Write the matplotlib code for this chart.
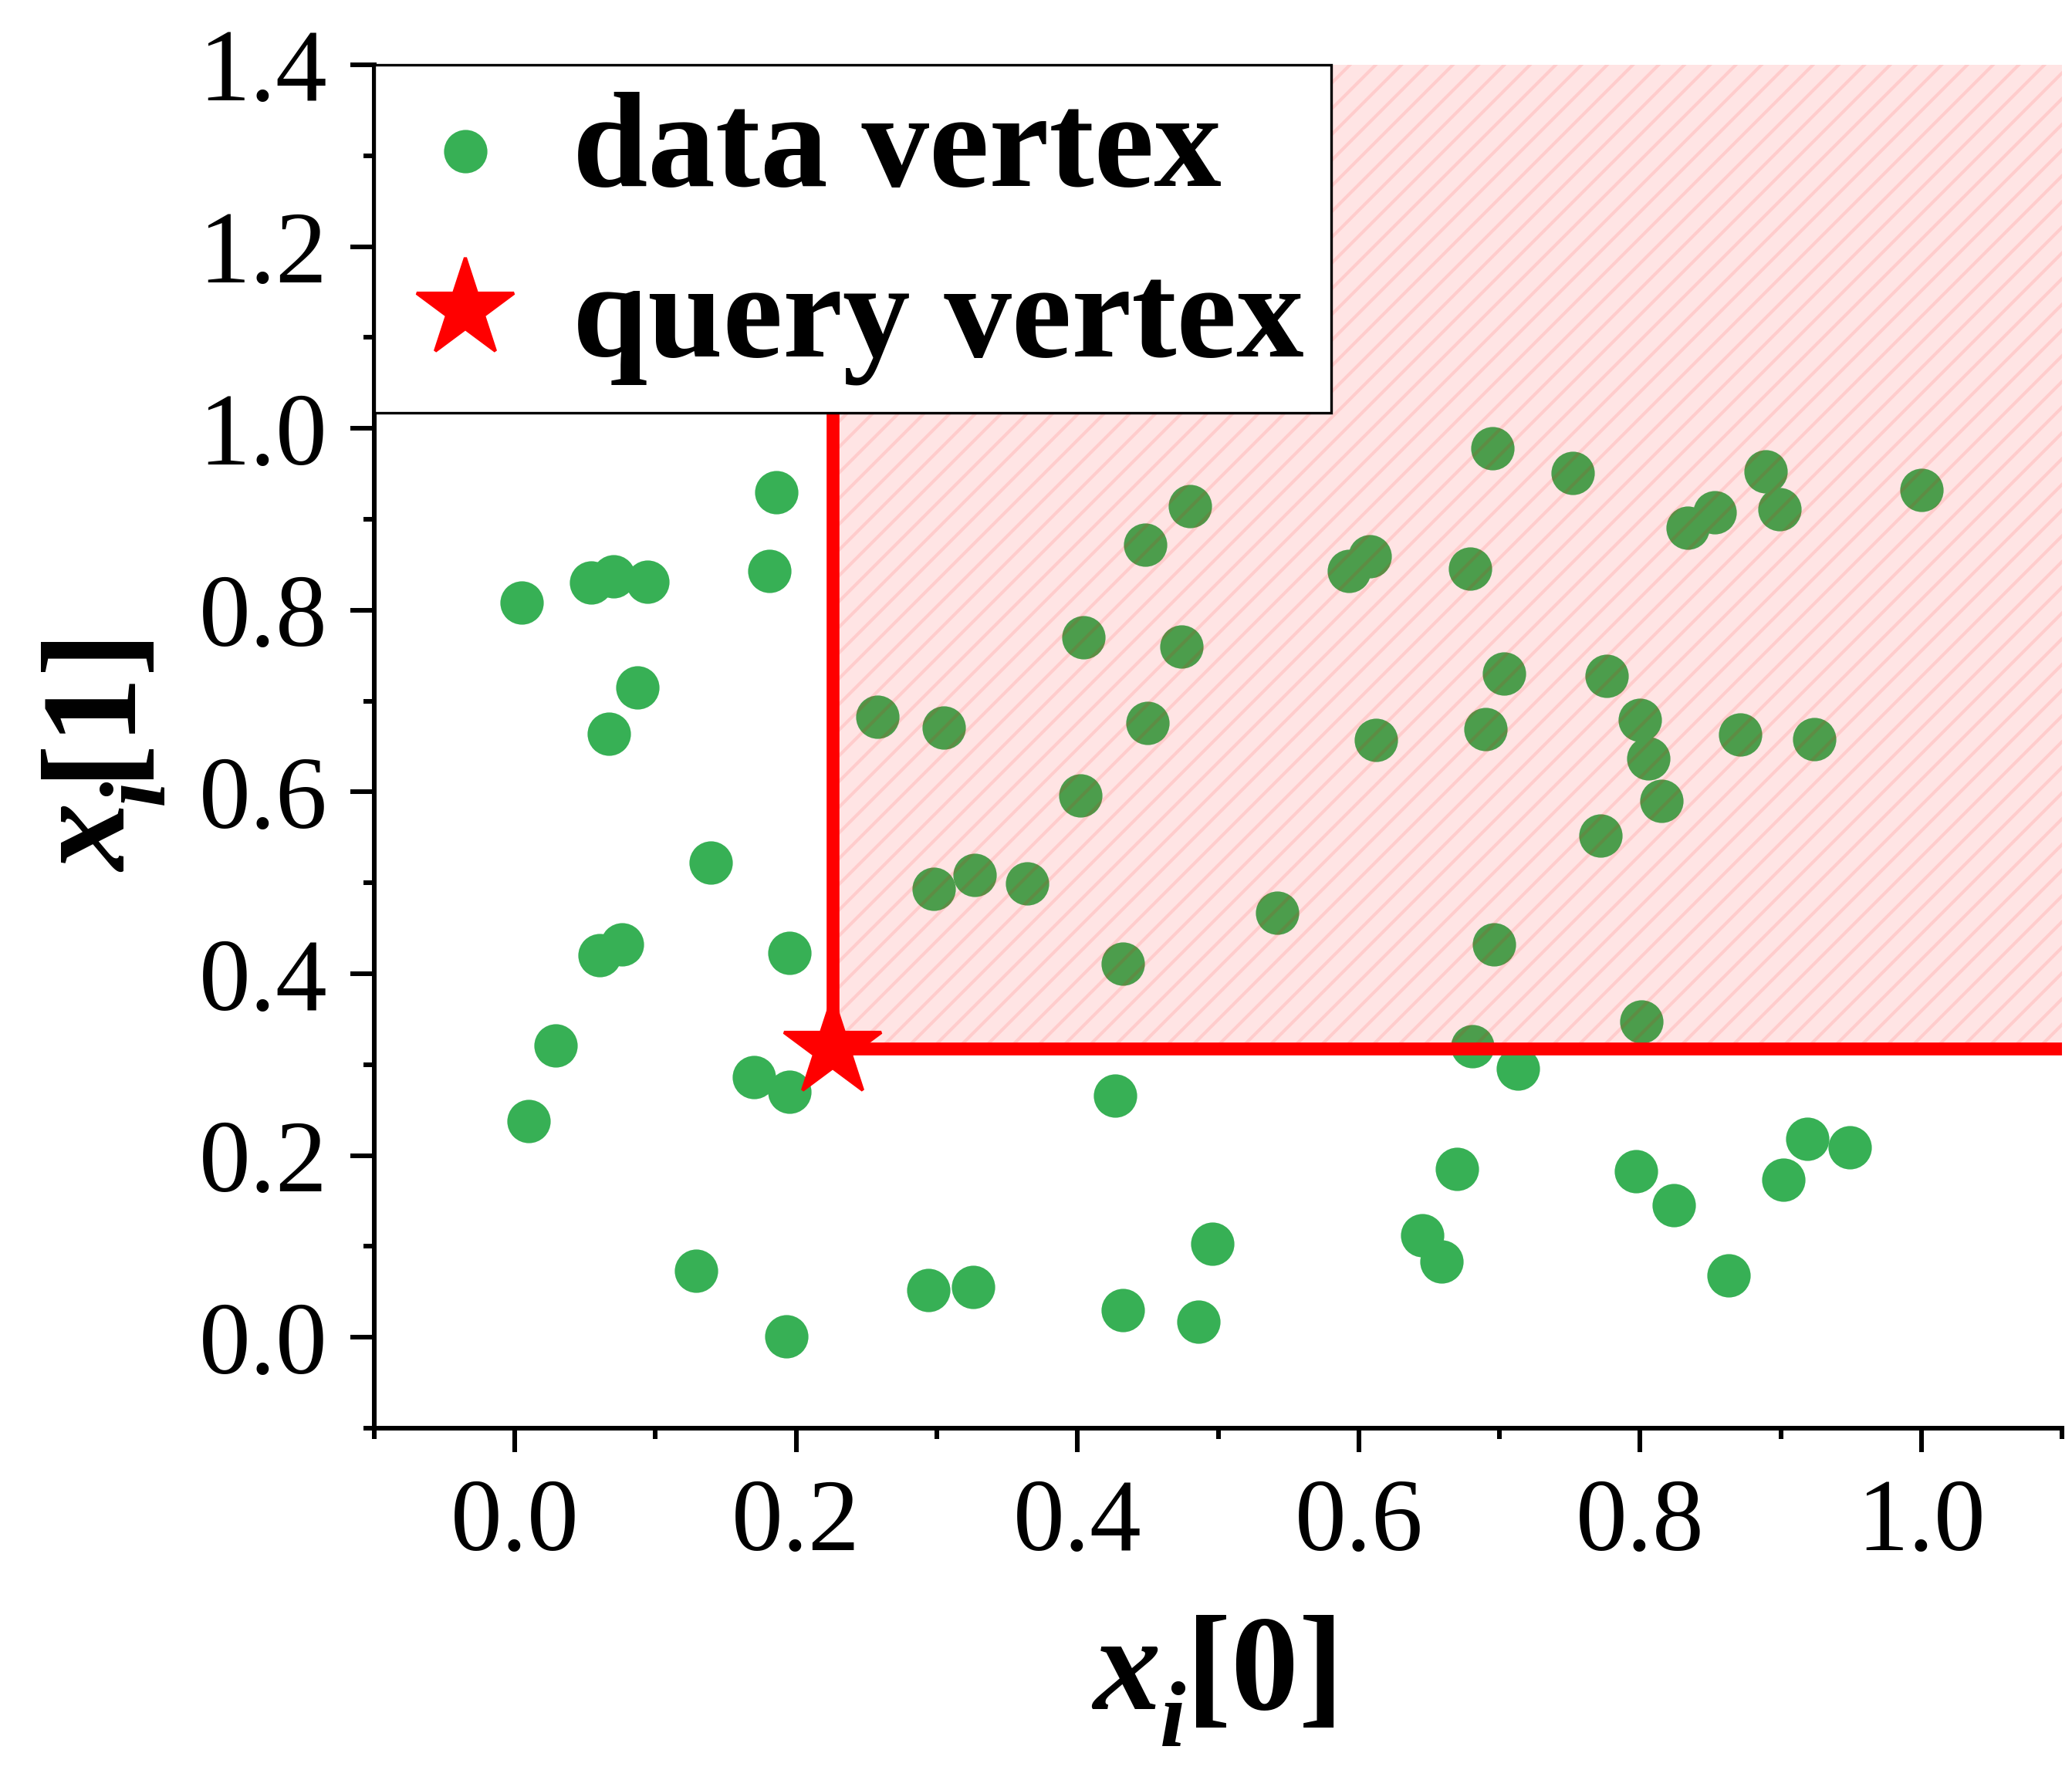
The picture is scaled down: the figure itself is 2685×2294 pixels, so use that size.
import matplotlib
matplotlib.use("Agg")
import matplotlib.pyplot as plt
from matplotlib.ticker import MultipleLocator

# === 数据 ===
data_x = [0.005, 0.010, 0.029, 0.054, 0.070, 0.094, 0.087, 0.067, 0.060, 0.076,
          0.129, 0.139, 0.170, 0.195, 0.195, 0.193, 0.181, 0.186, 0.258, 0.305,
          0.298, 0.327, 0.294, 0.326, 0.364, 0.402, 0.404, 0.432, 0.427, 0.432,
          0.448, 0.450, 0.474, 0.480, 0.486, 0.496, 0.542, 0.593, 0.608, 0.612,
          0.645, 0.659, 0.670, 0.679, 0.681, 0.690, 0.695, 0.696, 0.703, 0.713,
          0.752, 0.772, 0.776, 0.797, 0.800, 0.801, 0.806, 0.815, 0.824, 0.834,
          0.853, 0.863, 0.871, 0.889, 0.899, 0.902, 0.919, 0.924, 0.949, 1.000]
data_y = [0.808, 0.238, 0.321, 0.830, 0.837, 0.831, 0.715, 0.664, 0.420, 0.432,
          0.073, 0.522, 0.286, 0.270, 0.423, 0.001, 0.843, 0.930, 0.683, 0.671,
          0.493, 0.509, 0.052, 0.055, 0.499, 0.596, 0.770, 0.411, 0.266, 0.030,
          0.872, 0.676, 0.760, 0.914, 0.017, 0.103, 0.467, 0.843, 0.859, 0.657,
          0.112, 0.083, 0.185, 0.846, 0.320, 0.669, 0.978, 0.432, 0.730, 0.296,
          0.951, 0.552, 0.728, 0.183, 0.679, 0.347, 0.637, 0.590, 0.145, 0.891,
          0.908, 0.068, 0.663, 0.953, 0.911, 0.173, 0.218, 0.658, 0.209, 0.932]
query = (0.226, 0.318)

xlim = (-0.1, 1.1)
ylim = (-0.1, 1.4)
xticks = [0.0, 0.2, 0.4, 0.6, 0.8, 1.0]
yticks = [0.0, 0.2, 0.4, 0.6, 0.8, 1.0, 1.2, 1.4]

# === 字体 ===
plt.rcParams['font.family'] = ['Liberation Serif', 'DejaVu Serif']
plt.rcParams['hatch.linewidth'] = 1.0

W, H, DPI = 2685, 2294, 300
fig = plt.figure(figsize=(W / DPI, H / DPI), dpi=DPI)
ax = fig.add_axes([0.1806, 0.1931, 0.9952 - 0.1806, 0.9634 - 0.1931])

green = '#37b055'
ax.scatter(data_x, data_y, s=182, color=green, linewidths=0, zorder=2,
           label='data vertex')

# 查询点支配区域
qx, qy = query
ax.fill_between([qx, xlim[1]], qy, ylim[1], color=(1, 0, 0, 0.106),
                linewidth=0, zorder=3)
ax.fill_between([qx, xlim[1]], qy, ylim[1], facecolor='none',
                edgecolor=(1, 0, 0, 0.10), hatch='///', linewidth=0, zorder=3)
ax.plot([qx, qx], [qy, ylim[1]], color='red', lw=4, zorder=4)
ax.plot([qx, xlim[1]], [qy, qy], color='red', lw=4, zorder=4)
ax.plot([qx], [qy], marker='*', markersize=32, color='red', linestyle='none',
        zorder=5, label='query vertex')

ax.set_xlim(*xlim)
ax.set_ylim(*ylim)
ax.xaxis.set_minor_locator(MultipleLocator(0.1))
ax.yaxis.set_minor_locator(MultipleLocator(0.1))
ax.set_xticks(xticks)
ax.set_xticklabels([f'{v:.1f}' for v in xticks])
ax.set_yticks(yticks)
ax.set_yticklabels([f'{v:.1f}' for v in yticks])

for s in ['top', 'right']:
    ax.spines[s].set_visible(False)
for s in ['left', 'bottom']:
    ax.spines[s].set_linewidth(1.45)

ax.tick_params(which='major', direction='out', length=7.5, width=1.45,
               labelsize=32)
ax.tick_params(which='minor', direction='out', length=3.3, width=1.45)
ax.tick_params(axis='x', which='major', pad=8)
ax.tick_params(axis='y', which='major', pad=7)

leg = ax.legend(loc='upper left', bbox_to_anchor=(0, 1), borderaxespad=0,
                prop={'size': 42, 'weight': 'bold'}, fancybox=False,
                framealpha=1, edgecolor='black', borderpad=0.2,
                handlelength=0.95, handletextpad=0.32, labelspacing=0.35)
leg.get_frame().set_linewidth(0.8)
leg.set_zorder(10)


# === 轴标签: 粗斜体 x 加下标 i, 再接粗体 [k] ===
def label_pieces(idx):
    return [('x', 42, 'italic', 0.0),
            ('i', 29, 'italic', 11.5),
            (f'[{idx}]', 42, 'normal', 0.0)]


fig.canvas.draw()
rend = fig.canvas.get_renderer()


def piece_widths(pieces):
    ws = []
    for s, size, style, _ in pieces:
        t = fig.text(0, 0, s, fontsize=size, fontweight='bold', fontstyle=style)
        ws.append(t.get_window_extent(rend).width)
        t.remove()
    return ws


drop_px = DPI / 72.0
ab = ax.get_window_extent(rend)

# x 轴标签
pieces = label_pieces(0)
ws = piece_widths(pieces)
x0 = ab.x0 + ab.width / 2 - sum(ws) / 2
base_y = H - 2215
for (s, size, style, dy), w in zip(pieces, ws):
    fig.text(x0 / W, (base_y - dy * drop_px) / H, s, fontsize=size,
             fontweight='bold', fontstyle=style, ha='left', va='baseline')
    x0 += w

# y 轴标签 (旋转 90°)
pieces = label_pieces(1)
ws = piece_widths(pieces)
y0 = ab.y0 + ab.height / 2 - sum(ws) / 2
base_x = 163
for (s, size, style, dy), w in zip(pieces, ws):
    fig.text((base_x + dy * drop_px) / W, y0 / H, s, fontsize=size,
             fontweight='bold', fontstyle=style, ha='left', va='baseline',
             rotation=90, rotation_mode='anchor')
    y0 += w

fig.savefig('out.png', dpi=DPI)
